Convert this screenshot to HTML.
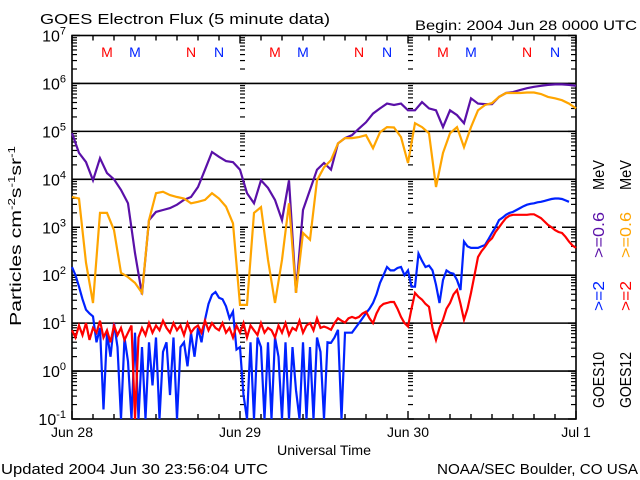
<!DOCTYPE html>
<html><head><meta charset="utf-8"><style>
html,body{margin:0;padding:0;background:#fff;}
svg{display:block;font-family:"Liberation Sans",sans-serif;}
</style></head><body>
<svg id="chart" width="640" height="480" viewBox="0 0 640 480" xmlns="http://www.w3.org/2000/svg">
<rect width="640" height="480" fill="#fff"/>
<text x="40" y="24" font-size="15" textLength="290" lengthAdjust="spacingAndGlyphs">GOES Electron Flux (5 minute data)</text>
<text x="415" y="30" font-size="14" textLength="222" lengthAdjust="spacingAndGlyphs">Begin: 2004 Jun 28 0000 UTC</text>
<text x="277" y="455" font-size="14" textLength="94" lengthAdjust="spacingAndGlyphs">Universal Time</text>
<text x="1" y="474" font-size="15" textLength="267" lengthAdjust="spacingAndGlyphs">Updated 2004 Jun 30 23:56:04 UTC</text>
<text x="437" y="474" font-size="15" textLength="201" lengthAdjust="spacingAndGlyphs">NOAA/SEC Boulder, CO USA</text>
<text transform="translate(21,326) rotate(-90)" font-size="16" textLength="180" lengthAdjust="spacingAndGlyphs">Particles cm<tspan font-size="10" dy="-6">-2</tspan><tspan dy="6">s</tspan><tspan font-size="10" dy="-6">-1</tspan><tspan dy="6">sr</tspan><tspan font-size="10" dy="-6">-1</tspan></text>
<g transform="translate(604,408) rotate(-90)" font-size="16">
<text x="0" y="0" fill="#000" textLength="56" lengthAdjust="spacingAndGlyphs">GOES10</text>
<text x="97" y="0" fill="#0022ff" textLength="30" lengthAdjust="spacingAndGlyphs">&gt;=2</text>
<text x="150" y="0" fill="#5a10a8" textLength="46" lengthAdjust="spacingAndGlyphs">&gt;=0.6</text>
<text x="218" y="0" fill="#000" textLength="30" lengthAdjust="spacingAndGlyphs">MeV</text>
</g>
<g transform="translate(631,408) rotate(-90)" font-size="16">
<text x="0" y="0" fill="#000" textLength="56" lengthAdjust="spacingAndGlyphs">GOES12</text>
<text x="97" y="0" fill="#ff0000" textLength="30" lengthAdjust="spacingAndGlyphs">&gt;=2</text>
<text x="150" y="0" fill="#ffa500" textLength="46" lengthAdjust="spacingAndGlyphs">&gt;=0.6</text>
<text x="218" y="0" fill="#000" textLength="30" lengthAdjust="spacingAndGlyphs">MeV</text>
</g>
<g id="axes"></g>
<g id="series"></g>
</svg>
<script>
// log10 flux values
const purpleHourly=[4.96,4.55,4.36,3.98,4.44,4.13,4.0,3.78,3.5,2.46,1.6,3.15,3.32,3.36,3.4,3.47,3.57,3.63,3.84,4.2,4.57,4.47,4.38,4.36,4.2,3.71,3.5,3.98,3.82,3.57,3.15,3.98,1.63,3.36,3.78,4.2,4.34,4.2,4.75,4.86,4.92,5.06,5.19,5.37,5.48,5.58,5.55,5.58,5.44,5.44,5.61,5.48,5.44,5.09,5.44,5.34,5.17,5.69,5.58,5.57,5.57,5.72,5.8,5.82,5.86,5.9,5.93,5.95,5.97,5.98,5.98,5.97,5.95];
const orangeHourly=[3.63,3.6,2.26,1.42,3.3,3.3,2.94,2.05,1.96,1.84,1.63,3.15,3.71,3.74,3.67,3.63,3.6,3.5,3.53,3.57,3.71,3.6,3.43,3.08,1.38,1.38,3.3,3.42,2.32,1.42,2.32,3.5,1.63,2.88,2.74,3.98,4.25,4.4,4.75,4.86,4.86,4.88,4.92,4.65,4.98,5.09,5.08,4.88,4.34,5.17,5.09,4.96,3.84,4.55,4.96,5.09,4.67,5.09,5.44,5.55,5.59,5.72,5.8,5.8,5.8,5.81,5.81,5.78,5.72,5.69,5.65,5.58,5.48];
const blueHalfHourly=[2.17,2.0,1.76,1.5,1.28,1.2,1.14,0.6,0.9,-0.8,0.8,0.3,1.0,0.5,-1,0.7,0.2,-1,0.8,-1,0.5,-1,0.6,-0.3,0.7,-1,0.4,0.6,-0.5,0.7,-1,0.5,0.6,0.1,0.8,0.3,0.9,0.6,1.07,1.4,1.59,1.65,1.53,1.5,1.35,1.1,1.24,0.45,
0.5,-0.5,-1,0.6,-1,0.7,0.5,-1,0.6,-1,0.7,0.3,-1,0.6,-1,0.5,-0.4,-1,0.6,-1,0.5,-1,0.7,0.4,-1,0.6,0.59,0.7,0.86,-1,0.8,0.8,0.8,0.9,1.0,1.1,1.21,1.3,1.42,1.6,1.84,2.0,2.17,2.1,2.1,2.15,2.17,2.0,2.1,1.76,1.76,2.45,2.3,2.17,2.2,2.1,1.8,1.42,1.9,2.1,2.05,2.03,1.9,1.69,2.7,2.6,2.57,2.57,2.57,2.6,2.63,2.75,2.88,3.0,3.15,3.2,3.26,3.3,3.32,3.36,3.4,3.44,3.47,3.49,3.5,3.52,3.53,3.55,3.57,3.59,3.6,3.6,3.59,3.56,3.53];
const redHalfHourly=[0.85,0.7,0.95,0.75,1.0,0.65,0.9,0.8,1.05,0.7,0.85,0.6,0.95,0.75,0.9,0.65,0.8,0.95,-1,0.7,0.9,0.75,1.0,0.8,0.95,0.85,1.05,0.9,0.8,1.0,0.85,0.95,0.75,1.0,0.8,0.9,0.95,0.8,1.05,0.85,1.0,0.9,0.85,1.0,0.8,0.9,0.7,0.95,
0.8,1.0,0.7,0.95,0.85,0.75,1.0,0.8,0.9,0.85,0.7,0.95,0.8,1.0,0.75,0.9,0.85,1.05,0.8,0.95,1.0,0.85,1.1,0.9,0.93,0.9,0.86,1.0,1.1,1.05,1.01,1.1,1.13,1.1,1.13,1.2,1.24,1.1,1.0,1.2,1.34,1.4,1.42,1.44,1.44,1.3,1.13,1.0,0.93,1.3,1.63,1.55,1.49,1.4,1.34,0.9,0.65,0.9,1.07,1.3,1.42,1.6,1.69,1.4,1.07,1.3,1.63,2.0,2.38,2.5,2.59,2.7,2.77,2.9,3.0,3.1,3.19,3.24,3.26,3.26,3.26,3.26,3.26,3.27,3.27,3.23,3.19,3.12,3.05,3.0,2.94,2.9,2.88,2.8,2.7,2.62,2.57];
const yTickExps=[-1,0,1,2,3,4,5,6,7];
const dayLabels=["Jun 28","Jun 29","Jun 30","Jul 1"];
const markerLetters=["M","M","N","N"];
const markerHours=[5,9,17,21];
const markerColors=["#ff0000","#0022ff","#ff0000","#0022ff"];

const L=72,R=576,T=35.5,B=419,HOURS=72,YMIN=-1,YMAX=7;
const NS="http://www.w3.org/2000/svg";
const xs=h=>L+(R-L)*h/HOURS;
const ys=v=>B-(B-T)*(v-YMIN)/(YMAX-YMIN);
const axes=document.getElementById('axes'),series=document.getElementById('series');
function mk(tag,attrs,parent){const e=document.createElementNS(NS,tag);for(const k in attrs)e.setAttribute(k,attrs[k]);parent.appendChild(e);return e;}

yTickExps.forEach(ex=>{
  if(ex===YMIN||ex===YMAX)return;
  const g=mk('line',{x1:L,x2:R,y1:ys(ex),y2:ys(ex),stroke:'#000','stroke-width':1.6},axes);
  if(ex===3)g.setAttribute('stroke-dasharray','8,6');
  
  
});
yTickExps.forEach(ex=>{
  const t=mk('text',{x:L-6,y:ys(ex)+6,'font-size':16,'text-anchor':'end'},axes);
  t.innerHTML='10<tspan font-size="11" dy="-7">'+ex+'</tspan>';
  
  
  if(ex<YMAX){for(let m=2;m<=9;m++){const y=ys(ex+Math.log10(m));
    [[L,L+5],[R-5,R],[240,245],[408,413]].forEach(p=>mk('line',{x1:p[0],x2:p[1],y1:y,y2:y,stroke:'#000','stroke-width':1.2},axes));}}
  [[L,L+8],[R-8,R],[240,246],[408,414]].forEach(p=>mk('line',{x1:p[0],x2:p[1],y1:ys(ex),y2:ys(ex),stroke:'#000','stroke-width':1.4},axes));
});
for(let h=0;h<=HOURS;h+=3){const x=xs(h),len=h%24===0?8:5;
  mk('line',{x1:x,x2:x,y1:B,y2:B-len,stroke:'#000','stroke-width':1.4},axes);
  mk('line',{x1:x,x2:x,y1:T,y2:T+len,stroke:'#000','stroke-width':1.4},axes);}
dayLabels.forEach((d,i)=>{const t=mk('text',{x:xs(i*24),y:437,'font-size':14,'text-anchor':'middle'},axes);t.textContent=d;
  
  });
const fr=mk('rect',{x:L,y:T,width:R-L,height:B-T,fill:'none',stroke:'#000','stroke-width':1.6},axes);


for(let d=0;d<3;d++)markerLetters.forEach((m,i)=>{const t=mk('text',{x:xs(d*24+markerHours[i]),y:57,'font-size':14,'text-anchor':'middle',fill:markerColors[i]},axes);t.textContent=m;
  
  });
function line(vals,step,color,name){
  const pts=vals.map((v,i)=>xs(i*step).toFixed(1)+','+ys(v).toFixed(1)).join(' ');
  const p=mk('polyline',{points:pts,fill:'none',stroke:color,'stroke-width':2.2,'stroke-linejoin':'miter'},series);
  
  
}
line(purpleHourly,1,'#5a10a8','series-goes10-0.6mev');
line(orangeHourly,1,'#ffa500','series-goes12-0.6mev');
line(blueHalfHourly,0.5,'#0022ff','series-goes10-2mev');
line(redHalfHourly,0.5,'#ff0000','series-goes12-2mev');
</script>
</body></html>
